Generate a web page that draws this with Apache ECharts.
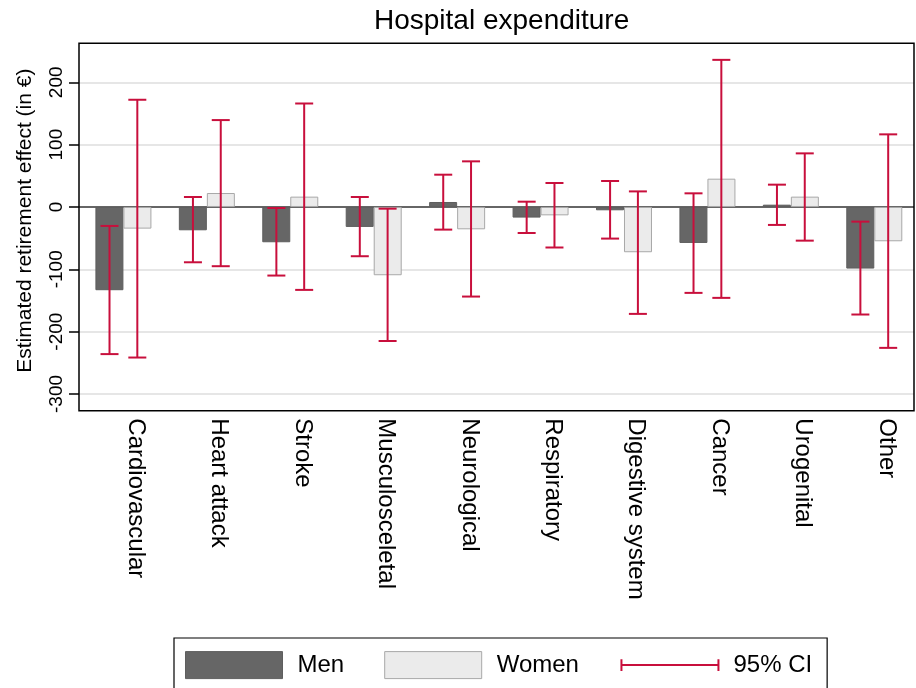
<!DOCTYPE html>
<html>
<head>
<meta charset="utf-8">
<script src="https://cdn.jsdelivr.net/npm/echarts@6/dist/echarts.min.js"></script>
<style>
html,body{margin:0;padding:0;background:#fff;}
#chart{width:916px;height:688px;}
</style>
</head>
<body>
<div id="chart"></div>
<script>
// ---- data ----
var categories = ['Cardiovascular','Heart attack','Stroke','Musculosceletal','Neurological','Respiratory','Digestive system','Cancer','Urogenital','Other'];
var men       = [-133.5, -37.4, -56.6, -32, 8, -17, -5.3, -57.7, 3.7, -98.8];
var menLow    = [-236, -88.7, -110, -79, -36.3, -41.7, -50.7, -137.8, -28.8, -172.5];
var menHigh   = [-30.4, 16, -1.6, 16, 51.8, 8.5, 41.7, 21.9, 35.8, -23.5];
var women     = [-34.7, 22.4, 16.6, -109.5, -35.8, -13.4, -72.6, 45.4, 16.6, -55];
var womenLow  = [-241.5, -95, -133, -215, -143.7, -65, -171.5, -145.8, -54, -226];
var womenHigh = [172, 139.4, 166, -2.7, 73.2, 38.5, 25, 236, 86, 116.5];
var yMin = -300, yMax = 200, yStep = 100;

var RED = '#c80f3c';
var FONT = 'Liberation Sans, Arial, Helvetica, sans-serif';

var ciData = [];
categories.forEach(function (c, i) {
  ciData.push([i, menLow[i], menHigh[i], -1]);
  ciData.push([i, womenLow[i], womenHigh[i], 1]);
});

var chart = echarts.init(document.getElementById('chart'), null, {renderer: 'canvas'});

var option = {
  backgroundColor: '#ffffff',
  animation: false,
  textStyle: {fontFamily: FONT},
  title: {
    text: 'Hospital expenditure',
    left: 369, top: 2,
    textStyle: {fontFamily: FONT, fontSize: 28, fontWeight: 'normal', color: '#000'}
  },
  legend: {
    left: 174, top: 638,
    orient: 'horizontal',
    padding: [11.5, 15, 10, 11],
    borderColor: '#000', borderWidth: 1.2,
    itemWidth: 97, itemHeight: 27, itemGap: 40,
    selectedMode: false,
    textStyle: {fontFamily: FONT, fontSize: 24, color: '#000', padding: [0, 0, 0, 10]},
    data: [
      {name: 'Men', icon: 'rect', itemStyle: {color: '#666666', borderColor: '#5e5e5e', borderWidth: 1}},
      {name: 'Women', icon: 'rect', itemStyle: {color: '#ebebeb', borderColor: '#a8a8a8', borderWidth: 1}},
      {name: '95% CI', icon: 'path://M0,0 M0,7.5 L0,19.5 M0,13.5 L100,13.5 M100,7.5 L100,19.5 M100,27',
        itemStyle: {color: 'none', borderColor: RED, borderWidth: 2}}
    ]
  },
  grid: [
    // 0: value-axis grid (gridlines, ticks, labels)
    {left: 79, width: 835, top: 82.3, height: 311.7, show: false},
    // 1: bars grid
    {left: 81.7, width: 840, top: 82.3, height: 311.7, show: false},
    // 2: frame
    {left: 79, width: 835, top: 43.3, height: 367.4, show: true, borderColor: '#000', borderWidth: 1.5, backgroundColor: 'transparent', z: 3}
  ],
  xAxis: [
    {gridIndex: 0, type: 'value', min: 0, max: 1, show: false},
    {
      gridIndex: 1, type: 'category', data: categories, boundaryGap: true,
      position: 'bottom', offset: 16.7,
      axisLine: {show: false}, axisTick: {show: false}, splitLine: {show: false},
      axisLabel: {
        rotate: -90, margin: 7.6, interval: 0,
        fontFamily: FONT, fontSize: 24, color: '#000',
        verticalAlign: 'bottom'
      }
    },
    {gridIndex: 2, type: 'value', min: 0, max: 1, show: false}
  ],
  yAxis: [
    {
      gridIndex: 0, type: 'value', min: yMin, max: yMax, interval: yStep,
      name: 'Estimated retirement effect (in €)',
      nameLocation: 'middle', nameGap: 43,
      nameTextStyle: {fontFamily: FONT, fontSize: 21, color: '#000', padding: [0, 0, 0, 35]},
      axisLine: {show: false},
      axisTick: {show: true, inside: false, length: 10, lineStyle: {color: '#000', width: 1.5}},
      axisLabel: {rotate: 90, margin: 13, fontFamily: FONT, fontSize: 19, color: '#000'},
      splitLine: {show: true, lineStyle: {color: ['#dedede', '#dedede', '#dedede', '#333333', '#dedede', '#dedede'], width: 1.5}}
    },
    {gridIndex: 1, type: 'value', min: yMin, max: yMax, show: false},
    {gridIndex: 2, type: 'value', min: 0, max: 1, show: false}
  ],
  series: [
    {
      name: 'Men', type: 'bar', xAxisIndex: 1, yAxisIndex: 1,
      data: men, barWidth: 28, barGap: '0%',
      itemStyle: {color: '#666666', borderColor: '#5e5e5e', borderWidth: 1},
      z: 2
    },
    {
      name: 'Women', type: 'bar', xAxisIndex: 1, yAxisIndex: 1,
      data: women, barWidth: 28, barGap: '0%',
      itemStyle: {color: '#ebebeb', borderColor: '#a8a8a8', borderWidth: 1},
      z: 2
    },
    {
      name: '95% CI', type: 'custom', xAxisIndex: 1, yAxisIndex: 1,
      data: ciData,
      encode: {x: 0, y: [1, 2]},
      z: 4,
      itemStyle: {color: RED},
      renderItem: function (params, api) {
        var idx = api.value(0), lo = api.value(1), hi = api.value(2), side = api.value(3);
        var band = api.size([1, 0])[0];
        var pLo = api.coord([idx, lo]);
        var pHi = api.coord([idx, hi]);
        var x = pLo[0] + side * band / 6;
        var cap = 9;
        var st = {stroke: RED, lineWidth: 2};
        return {
          type: 'group',
          children: [
            {type: 'line', shape: {x1: x, y1: pHi[1], x2: x, y2: pLo[1]}, style: st},
            {type: 'line', shape: {x1: x - cap, y1: pHi[1], x2: x + cap, y2: pHi[1]}, style: st},
            {type: 'line', shape: {x1: x - cap, y1: pLo[1], x2: x + cap, y2: pLo[1]}, style: st}
          ]
        };
      }
    }
  ]
};
chart.setOption(option);
</script>
</body>
</html>
